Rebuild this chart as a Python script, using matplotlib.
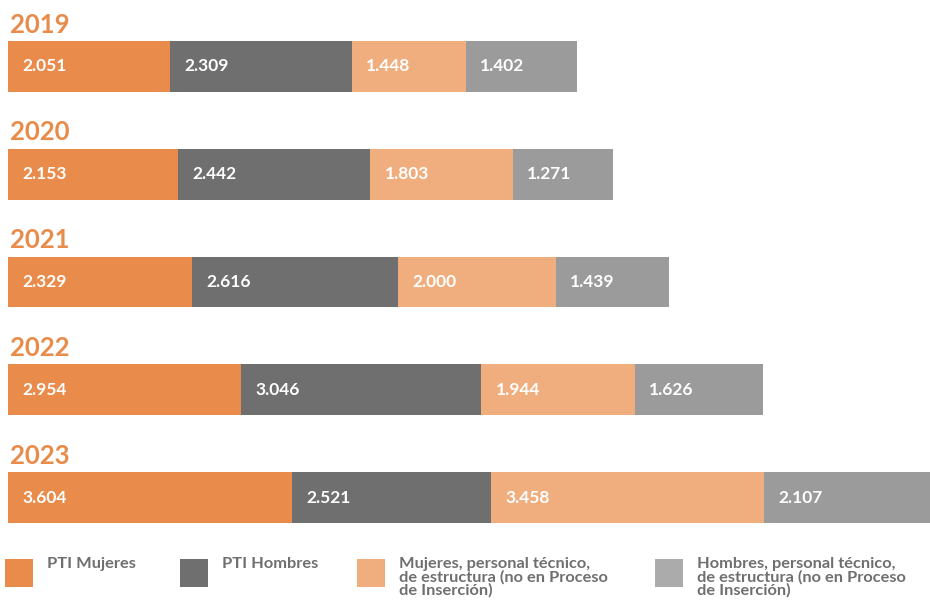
import matplotlib.pyplot as plt
from matplotlib.patches import Rectangle

years = ['2019', '2020', '2021', '2022', '2023']
series = [
    'PTI Mujeres',
    'PTI Hombres',
    'Mujeres, personal técnico,\nde estructura (no en Proceso\nde Inserción)',
    'Hombres, personal técnico,\nde estructura (no en Proceso\nde Inserción)',
]
pti_mujeres = [2051, 2153, 2329, 2954, 3604]
pti_hombres = [2309, 2442, 2616, 3046, 2521]
mujeres_estructura = [1448, 1803, 2000, 1944, 3458]
hombres_estructura = [1402, 1271, 1439, 1626, 2107]

colors = ['#E98B4A', '#6F6F6F', '#F0AD7D', '#9B9B9B']
legend_colors = ['#E98B4A', '#6F6F6F', '#F0AD7D', '#ABABAB']
orange = '#E98B4A'
text_gray = '#6F6F6F'

plt.rcParams['font.family'] = ['Lato', 'DejaVu Sans']

W, H = 930, 603
fig = plt.figure(figsize=(W / 100, H / 100), dpi=100)

# axes spans the bars only (pixel box of the reference)
top_px, bot_px = 41, 523
ax = fig.add_axes([8 / W, (H - bot_px) / H, 1 - 8 / W, (bot_px - top_px) / H])
half = 0.2365
bar_h = 2 * half

all_series = [pti_mujeres, pti_hombres, mujeres_estructura, hombres_estructura]
totals = [sum(v) for v in zip(*all_series)]
left = [0] * len(years)
for vals, col in zip(all_series, colors):
    ax.barh(range(len(years)), vals, left=left, height=bar_h, color=col, linewidth=0)
    for i, v in enumerate(vals):
        ax.text(left[i] + 180, i, f'{v:,}'.replace(',', '.'), color='white',
                fontsize=12.5, fontweight='bold', va='center', ha='left')
    left = [l + v for l, v in zip(left, vals)]

for i, y in enumerate(years):
    ax.text(20, i - half - 0.04, y, color=orange, fontsize=18.5, fontweight='bold',
            va='bottom', ha='left')

ax.set_xlim(0, max(totals))
ax.set_ylim(len(years) - 1 + half, -half)
ax.axis('off')

# legend drawn by hand to follow the reference layout
legend_x = [5, 180, 357, 655]
for x, name, col in zip(legend_x, series, legend_colors):
    fig.add_artist(Rectangle((x / W, (H - 587) / H), 28 / W, 28 / H,
                             transform=fig.transFigure, color=col, linewidth=0))
    fig.text((x + 42) / W, (H - 557) / H, name, color=text_gray, fontsize=11.8,
             fontweight='bold', va='top', ha='left', linespacing=0.9)

fig.savefig('out.png', dpi=100)
